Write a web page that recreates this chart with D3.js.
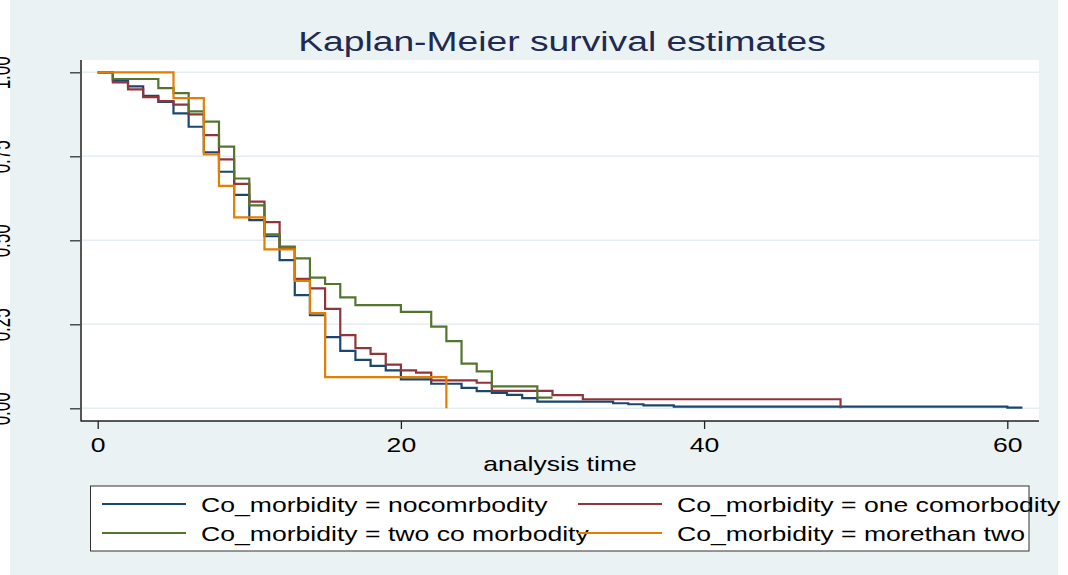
<!DOCTYPE html>
<html>
<head>
<meta charset="utf-8">
<script src="https://cdn.jsdelivr.net/npm/d3@7"></script>
<style>
  html, body { margin: 0; padding: 0; background: #ffffff; }
  svg { display: block; }
  text { font-family: "Liberation Sans", Arial, sans-serif; }
</style>
</head>
<body>
<svg id="chart" width="1068" height="575"></svg>
<script>
// Kaplan-Meier step estimates by co-morbidity group (time, survival after each event)
const groupLabels = [
  "Co_morbidity = nocomrbodity",
  "Co_morbidity = one comorbodity",
  "Co_morbidity = two co morbodity",
  "Co_morbidity = morethan two"
];
const groupColors = ["#1a476f", "#90353b", "#55752f", "#e37e00"];

const noneTime = [0,1,2,3,4,5,6,7,8,9,10,11,12,13,14,15,16,17,18,19,20,22,24,25,26,27,28,29,34,35,36,38,60,61];
const noneSurv = [1,0.975,0.958,0.930,0.912,0.878,0.838,0.762,0.704,0.635,0.560,0.512,0.441,0.337,0.277,0.212,0.171,0.144,0.126,0.113,0.086,0.073,0.061,0.051,0.046,0.040,0.030,0.020,0.015,0.012,0.009,0.005,0.002,0.002];

const oneTime = [0,1,2,3,4,5,6,7,8,9,10,11,12,13,14,15,16,17,18,19,20,21,22,25,26,30,32,49];
const oneSurv = [1,0.970,0.949,0.926,0.914,0.904,0.875,0.813,0.741,0.668,0.615,0.554,0.476,0.385,0.357,0.296,0.218,0.179,0.162,0.130,0.113,0.106,0.083,0.076,0.052,0.039,0.027,0];

const twoTime = [0,1,4,5,6,7,8,9,10,11,12,13,14,15,16,17,20,22,23,24,25,26,29,30];
const twoSurv = [1,0.980,0.953,0.938,0.884,0.853,0.779,0.684,0.604,0.518,0.481,0.446,0.389,0.370,0.330,0.307,0.287,0.243,0.200,0.133,0.110,0.065,0.032,0.032];

const moreTime = [0,5,7,8,9,11,13,14,15,23];
const moreSurv = [1,0.923,0.756,0.662,0.568,0.473,0.379,0.283,0.093,0];

const xTicks = [0, 20, 40, 60];
const yTicks = [0, 0.25, 0.5, 0.75, 1];

const titleText = "Kaplan-Meier survival estimates";
const xTitle = "analysis time";

// ---- layout ----
const W = 1068, H = 575;
const plot = { left: 81, right: 1039, top: 60, bottom: 421 };
const stretch = 1.33; // wide text rendering

const svg = d3.select("#chart");

// graph region
svg.append("rect").attr("x", 10).attr("y", 0).attr("width", 1048).attr("height", H)
  .attr("fill", "#eaf2f3");
// plot region
svg.append("rect").attr("x", plot.left).attr("y", plot.top)
  .attr("width", plot.right - plot.left).attr("height", plot.bottom - plot.top)
  .attr("fill", "#ffffff");

const x = d3.scaleLinear().domain([0, 60]).range([97.7, 1007.3]);
const y = d3.scaleLinear().domain([0, 1]).range([408.3, 72.3]);

// grid lines
svg.append("g").selectAll("line").data(yTicks).join("line")
  .attr("x1", plot.left).attr("x2", plot.right)
  .attr("y1", d => y(d)).attr("y2", d => y(d))
  .attr("stroke", "#e6eef1").attr("stroke-width", 1.5);

// y axis (vertical labels hugging the left edge)
const yAxis = d3.axisLeft(y).tickValues(yTicks).tickFormat(d3.format(".2f"))
  .tickSize(11).tickSizeOuter(0);
const gy = svg.append("g").attr("transform", `translate(${plot.left},0)`).call(yAxis);
gy.select(".domain").remove();
gy.selectAll(".tick line").attr("stroke", "#333").attr("stroke-width", 1.3);
gy.selectAll(".tick text")
  .attr("x", null).attr("dy", null)
  .attr("text-anchor", "middle")
  .attr("font-size", 17).attr("fill", "#000")
  .attr("transform", `translate(${10 - plot.left},0) rotate(-90) scale(1,1.6)`);
svg.append("line").attr("x1", plot.left).attr("x2", plot.left)
  .attr("y1", plot.top).attr("y2", plot.bottom + 0.5)
  .attr("stroke", "#555").attr("stroke-width", 2);

// x axis
const xAxis = d3.axisBottom(x).tickValues(xTicks).tickFormat(d3.format("d"))
  .tickSize(8).tickSizeOuter(0);
const gx = svg.append("g").attr("transform", `translate(0,${plot.bottom})`).call(xAxis);
gx.select(".domain").remove();
gx.selectAll(".tick line").attr("stroke", "#222").attr("stroke-width", 1.3);
gx.selectAll(".tick text")
  .attr("y", null).attr("dy", null)
  .attr("font-size", 20).attr("fill", "#000")
  .attr("text-anchor", "middle")
  .attr("transform", `translate(0,31) scale(${stretch},1)`);
svg.append("line").attr("x1", plot.left).attr("x2", plot.right)
  .attr("y1", plot.bottom).attr("y2", plot.bottom)
  .attr("stroke", "#222").attr("stroke-width", 1.5);

// survival step curves
const groups = [
  { time: noneTime, surv: noneSurv },
  { time: oneTime, surv: oneSurv },
  { time: twoTime, surv: twoSurv },
  { time: moreTime, surv: moreSurv }
];
const line = d3.line()
  .x(d => x(d[0])).y(d => y(d[1]))
  .curve(d3.curveStepAfter);
svg.append("g").selectAll("path").data(groups).join("path")
  .attr("d", g => line(g.time.map((t, i) => [t, g.surv[i]])))
  .attr("fill", "none")
  .attr("stroke", (g, i) => groupColors[i])
  .attr("stroke-width", 2.2)
  .attr("stroke-linejoin", "miter");

// titles
function wideText(sel, tx, ty, str, size, color, anchor) {
  return sel.append("text")
    .attr("transform", `translate(${tx},${ty}) scale(${stretch},1)`)
    .attr("text-anchor", anchor || "middle")
    .attr("font-size", size).attr("fill", color).text(str);
}
wideText(svg, 562, 51, titleText, 28, "#1e2a50");
wideText(svg, 560, 471, xTitle, 20, "#000");

// legend
const legend = svg.append("g");
legend.append("rect").attr("x", 90.5).attr("y", 486).attr("width", 938.5).attr("height", 65)
  .attr("fill", "#ffffff").attr("stroke", "#333").attr("stroke-width", 1);
const legendPos = [
  { lx: 102, ty: 504 }, { lx: 578, ty: 504 },
  { lx: 102, ty: 533 }, { lx: 578, ty: 533 }
];
groupLabels.forEach((lab, i) => {
  const p = legendPos[i];
  legend.append("line").attr("x1", p.lx).attr("x2", p.lx + 84)
    .attr("y1", p.ty).attr("y2", p.ty)
    .attr("stroke", groupColors[i]).attr("stroke-width", 2);
  wideText(legend, p.lx + 99, p.ty + 8, lab, 20, "#000", "start");
});
</script>
</body>
</html>
